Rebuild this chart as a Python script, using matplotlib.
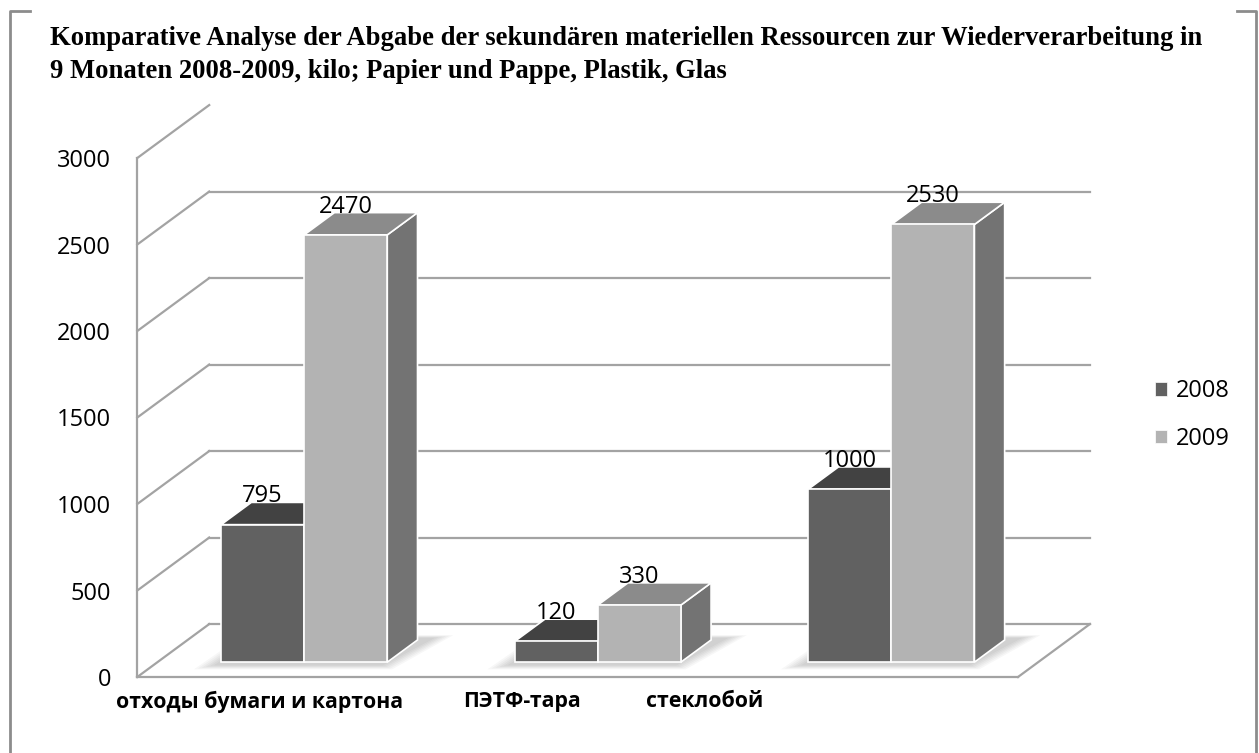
import matplotlib
matplotlib.use("Agg")
import matplotlib.pyplot as plt
from matplotlib.patches import Polygon, Patch
from matplotlib.lines import Line2D

# data
categories = ["отходы бумаги и картона", "ПЭТФ-тара", "стеклобой"]
years = ["2008", "2009"]
values_2008 = [795, 120, 1000]
values_2009 = [2470, 330, 2530]
y_ticks = [0, 500, 1000, 1500, 2000, 2500, 3000]
cat_label_pos = [-0.085, 0.812, 1.431]

title_lines = ["Komparative Analyse der Abgabe der sekundären materiellen Ressourcen zur Wiederverarbeitung in",
               "9 Monaten 2008-2009, kilo; Papier und Pappe, Plastik, Glas"]

# pseudo 3d settings (Excel look)
DX = 0.245      # depth offset in category units
DY = 306        # depth offset in value units
D0, D1 = 0.28, 0.70
BAR_W = 0.283
colors = {"2008": ("#616161", "#424242", "#505050"),
          "2009": ("#b3b3b3", "#8b8b8b", "#737373")}
GRID = "#a3a3a3"

plt.rcParams["font.family"] = ["Open Sans", "DejaVu Sans"]

fig = plt.figure(figsize=(12.59, 7.53), dpi=100)
ax = fig.add_axes([137.3 / 1259, 76 / 753, 880.7 / 1259, 519 / 753])
ax.set_xlim(-0.5, 2.5)
ax.set_ylim(0, 3000)


def proj(x, v, d):
    return x + d * DX, v + d * DY


# left wall + back wall grid
x_left, x_right = ax.get_xlim()
for v in y_ticks:
    p0 = proj(x_left, v, 0)
    p1 = proj(x_left, v, 1)
    ax.plot([p0[0], p1[0]], [p0[1], p1[1]], color=GRID, lw=1.6, clip_on=False, zorder=1)
    if v < 3000:
        p2 = proj(x_right, v, 1)
        ax.plot([p1[0], p2[0]], [p1[1], p2[1]], color=GRID, lw=1.6, clip_on=False, zorder=1)

# floor right edge
p0 = proj(x_right, 0, 0)
p1 = proj(x_right, 0, 1)
ax.plot([p0[0], p1[0]], [p0[1], p1[1]], color=GRID, lw=1.6, clip_on=False, zorder=1)


def box(x0, x1, v, face_cols):
    front, top, side = face_cols
    f = [proj(x0, 0, D0), proj(x1, 0, D0), proj(x1, v, D0), proj(x0, v, D0)]
    t = [proj(x0, v, D0), proj(x1, v, D0), proj(x1, v, D1), proj(x0, v, D1)]
    s = [proj(x1, 0, D0), proj(x1, 0, D1), proj(x1, v, D1), proj(x1, v, D0)]
    for pts, c in [(s, side), (t, top), (f, front)]:
        ax.add_patch(Polygon(pts, closed=True, facecolor=c, edgecolor="white", lw=1.2,
                             clip_on=False, zorder=3))


# soft shadows on the floor, just around the bar feet
for i in range(len(categories)):
    for k in range(6):
        g = 0.01 * k
        pts = [proj(i - BAR_W - 0.01 - g, 0, D0 - 0.06 - 0.015 * k),
               proj(i + BAR_W + g, 0, D0 - 0.06 - 0.015 * k),
               proj(i + BAR_W + 0.05 + g, 0, D1 + 0.04 + 0.01 * k),
               proj(i - BAR_W - g, 0, D1 + 0.04 + 0.01 * k)]
        ax.add_patch(Polygon(pts, closed=True, facecolor="black", edgecolor="none",
                             alpha=0.03, clip_on=False, zorder=2))

# bars
for i in range(len(categories)):
    for yr, vals, x0 in [("2008", values_2008, i - BAR_W), ("2009", values_2009, i)]:
        v = vals[i]
        box(x0, x0 + BAR_W, v, colors[yr])
        lx, ly = proj(x0 + BAR_W / 2, v, D0)
        ax.text(lx, v + D1 * DY, str(v), ha="center", va="baseline", fontsize=17,
                color="black", zorder=5)

# axes styling
for sp in ["top", "right"]:
    ax.spines[sp].set_visible(False)
for sp in ["left", "bottom"]:
    ax.spines[sp].set_color(GRID)
    ax.spines[sp].set_linewidth(1.6)
ax.set_yticks(y_ticks)
ax.set_yticklabels([str(t) for t in y_ticks], fontsize=17)
ax.tick_params(axis="y", length=0, pad=19)
ax.set_xticks(cat_label_pos)
ax.set_xticklabels(categories, fontsize=15.3, fontweight="bold")
ax.tick_params(axis="x", length=0, pad=10)
ax.patch.set_visible(False)

# legend
handles = [Patch(facecolor=colors[y][0], edgecolor="white", lw=0.5, label=y) for y in years]
fig.legend(handles=handles, loc="center left", bbox_to_anchor=(1155 / 1259, 1 - 415 / 753),
           frameon=False, fontsize=17, handlelength=0.5, handleheight=0.5,
           handletextpad=0.4, labelspacing=1.0, borderpad=0, borderaxespad=0)

# title, two lines
for line, base in zip(title_lines, [45, 78]):
    fig.text(50 / 1259, 1 - base / 753, line, fontsize=19.2, fontweight="bold",
             family=["Liberation Serif", "DejaVu Serif"], va="baseline", ha="left")

# outer frame (open at top)
fc = "#8c8c8c"
for xs, ys in [([9.5, 9.5, 30], [753, 11, 11]), ([1237, 1256, 1256], [11, 11, 753])]:
    fig.add_artist(Line2D([x / 1259 for x in xs], [1 - y / 753 for y in ys],
                          transform=fig.transFigure, color=fc, lw=2))

fig.savefig("out.png", dpi=100)
plt.close(fig)
